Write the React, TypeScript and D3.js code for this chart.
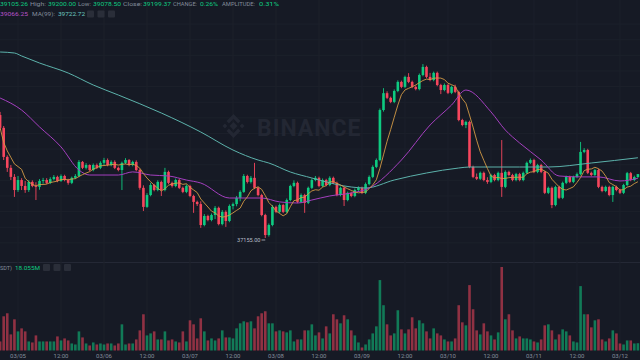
import React from 'react';
import * as d3 from 'd3';

// ---------- DATA ----------
const startTime = new Date(2022, 2, 4, 19, 0); // first visible hourly candle
// [open, high, low, close] per hour
const ohlc: number[][] = [
  [41090,41190,40610,40680],[40680,40740,39650,39750],[39750,39800,39270,39400],[39400,39490,39010,39110],
  [39110,39200,38470,38690],[38690,39140,38630,39010],[39010,39070,38690,38820],[38820,38980,38600,38690],
  [38690,39010,38630,38950],[38950,39000,38780,38820],[38820,38940,38370,38790],[38790,39040,38700,38980],
  [38980,39080,38890,39010],[39010,39070,38880,38920],[38920,39100,38880,39040],[39040,39170,39000,39110],
  [39110,39150,38940,38980],[38980,39190,38950,39140],[39140,39180,38970,39010],[39010,39050,38860,38920],
  [38920,39120,38880,39080],[39080,39200,39040,39140],[39140,39650,39100,39590],[39590,39620,39360,39400],
  [39400,39550,39350,39490],[39490,39510,39290,39330],[39330,39540,39290,39490],[39490,39540,39360,39400],
  [39400,39610,39360,39560],[39560,39720,39480,39650],[39650,39700,39450,39490],[39490,39640,39450,39590],
  [39590,39640,39360,39400],[39400,39440,39290,39330],[39330,39600,38690,39560],[39560,39710,39520,39650],
  [39650,39680,39450,39490],[39490,39630,39450,39590],[39590,39640,39290,39330],[39330,39370,38700,38760],
  [38760,38840,38020,38150],[38150,38590,38120,38530],[38530,38920,38490,38850],[38850,38890,38650,38690],
  [38690,39000,38650,38950],[38950,38990,38500,38690],[38690,39400,38650,39270],[39270,39310,38880,38920],
  [38920,38960,38770,38820],[38820,39060,38780,39010],[39010,39050,38720,38760],[38760,38800,38590,38630],
  [38630,38870,38590,38820],[38820,38860,38460,38500],[38500,38540,37960,38310],[38310,38350,38180,38240],
  [38240,38330,37480,37570],[37570,37920,37530,37860],[37860,37900,37690,37730],[37730,37940,37690,37890],
  [37890,38180,37760,38120],[38120,38160,37560,37600],[37600,38050,37560,37990],[37990,38040,37510,37700],
  [37700,38230,37660,38180],[38180,38290,38070,38240],[38240,38500,38170,38440],[38440,38680,38330,38630],
  [38630,39200,38600,39140],[39140,39180,38900,38950],[38950,39140,38900,39080],[39080,39560,38720,38760],
  [38760,38800,38490,38530],[38530,38570,37850,37890],[37890,37930,37155,37250],[37250,37620,37200,37570],
  [37570,38210,37530,38150],[38150,38190,37950,37990],[37990,38260,37950,38210],[38210,38250,37950,37990],
  [37990,38420,37950,38370],[38370,38860,38330,38820],[38820,39000,38780,38920],[38920,38960,38270,38310],
  [38310,38580,38270,38530],[38530,38570,37960,38280],[38280,38800,38240,38760],[38760,39060,38720,39010],
  [39010,39140,38970,39080],[39080,39120,38780,38820],[38820,39060,38780,39010],[39010,39050,38810,38850],
  [38850,39130,38810,39080],[39080,39120,38880,38920],[38920,38960,38490,38530],[38530,38800,38490,38760],
  [38760,38800,38180,38370],[38370,38640,38330,38600],[38600,38640,38460,38500],[38500,38740,38460,38690],
  [38690,38810,38650,38760],[38760,38800,38560,38600],[38600,38930,38560,38880],[38880,39160,38840,39110],
  [39110,39480,39070,39430],[39430,39700,39390,39650],[39650,41300,39610,41250],[41250,41950,41200,41790],
  [41790,41850,41600,41640],[41640,41680,41470,41510],[41510,41910,41470,41860],[41860,42200,41820,42150],
  [42150,42190,41950,41990],[41990,42350,41950,42310],[42310,42430,42110,42150],[42150,42190,41950,41990],
  [41990,42040,41880,41920],[41920,42420,41880,42370],[42370,42720,42330,42630],[42630,42670,42270,42310],
  [42310,42440,42170,42210],[42210,42480,42170,42440],[42440,42480,42010,42050],[42050,42090,41760,41890],
  [41890,42100,41850,42050],[42050,42090,41760,41800],[41800,42030,41760,41990],[41990,42060,41790,41830],
  [41830,41870,40890,40930],[40930,40970,40730,40770],[40770,40910,40670,40870],[40870,40910,39390,39430],
  [39430,39470,39070,39110],[39110,39220,39010,39050],[39050,39280,39010,39240],[39240,39280,38970,39010],
  [39010,39100,38890,38950],[38950,39210,38910,39170],[39170,39210,38970,39010],[39010,39280,38970,39240],
  [39240,40290,38470,38790],[38790,39320,38750,39270],[39270,39310,39130,39170],[39170,39210,38970,39010],
  [39010,39240,38970,39200],[39200,39240,38970,39010],[39010,39280,38970,39240],[39240,39600,39200,39560],
  [39560,39700,39520,39650],[39650,39690,39230,39270],[39270,39530,39230,39490],[39490,39530,39230,39270],
  [39270,39310,38560,38600],[38600,38800,38560,38760],[38760,38800,38110,38210],[38210,38830,38170,38790],
  [38790,38830,38400,38440],[38440,38960,38400,38920],[38920,39150,38880,39110],[39110,39150,38910,38950],
  [38950,39150,38910,39110],[39110,39250,39070,39200],[39200,40230,39160,39910],[39910,40030,39870,39970],
  [39970,40010,39200,39240],[39240,39280,39130,39170],[39170,39370,39130,39330],[39330,39370,38750,38790],
  [38790,38830,38620,38660],[38660,38830,38620,38790],[38790,38830,38490,38530],[38530,38830,38310,38790],
  [38790,38830,38650,38690],[38690,38730,38560,38600],[38600,38890,38560,38850],[38850,39270,38810,39230],
  [39230,39270,38970,39011],[39011,39150,38970,39105.26],[39105.26,39200,39078.5,39199.37],
];
// hourly volume, million USDT
const volumes: number[] = [
  22.5,85,92.5,40,77.5,47.5,55,47.5,22.5,20,37.5,22.5,22.5,22.5,22.5,22.5,35,25,30,25,
  17.5,15,47.5,32.5,17.5,12.5,20,15,17.5,15,17.5,17.5,12.5,17.5,65,15,17.5,17.5,27.5,50,
  90,37.5,42.5,47.5,27.5,27.5,47.5,25,27.5,22.5,20,47.5,22.5,75,65,30,80,47.5,25,30,
  25,30,50,32.5,32.5,30,55,67.5,72.5,70,72.5,55,85,92.5,97.5,67.5,67.5,47.5,50,47.5,
  45,50,22.5,27.5,27.5,50,50,65,37.5,45,30,60,42.5,90,77.5,67.5,87.5,77.5,50,37.5,
  20,7.5,15,27.5,42.5,60,175,112.5,65,37.5,42.5,100,52.5,42.5,52.5,82.5,55,75,67.5,47.5,
  30,55,42.5,37.5,27.5,22.5,22.5,30,112.5,70,62.5,162.5,102.5,50,40,67.5,47.5,37.5,27.5,45,
  207.5,77.5,90,50,30,35,30,30,27.5,22.5,20,27.5,62.5,65,50,27.5,40,52.5,47.5,37.5,
  22.5,20,160,90,90,57.5,75,77.5,27.5,22.5,30,50,42.5,17.5,15,25,25,17.5,18.055,
];
// MA(25) and MA(99): [candle index, price]
const ma25Pts: [number, number][] = [
  [0,41635],[6,41250],[11,40710],[17,40070],[22,39330],[25,39170],[33,39170],[37,39270],
  [42,39170],[47,39140],[52,39010],[56,38915],[64,38435],[73,38435],[78,38310],[83,38275],
  [87,38370],[92,38500],[98,38595],[103,38755],[112,39650],[120,40770],[126,41410],[130,41890],
  [137,41190],[141,40610],[145,40195],[151,39650],[156,39140],[162,39110],[167,39110],[173,38980],[178,39066.25],
];
const ma99Pts: [number, number][] = [
  [0,43107],[4,43075],[6,42980],[11,42755],[19,42435],[26,42051],[33,41730],[45,41155],
  [56,40547],[65,39970],[72,39650],[75,39555],[81,39267],[87,39075],[89,39011],[98,38787],
  [102,38755],[110,39011],[119,39235],[128,39395],[131,39427],[145,39427],[153,39427],[165,39555],[178,39722.72],
];
const headerLine1 = [
  { t: '39105.26', c: 'v', x: 0, w: 28 }, { t: 'High:', c: 'k', x: 30, w: 16 },
  { t: '39200.00', c: 'v', x: 48, w: 28 }, { t: 'Low:', c: 'k', x: 78, w: 13 },
  { t: '39078.50', c: 'v', x: 93, w: 28 }, { t: 'Close:', c: 'k', x: 123, w: 19 },
  { t: '39199.37', c: 'v', x: 143, w: 28 }, { t: 'CHANGE:', c: 'k', x: 173, w: 24 },
  { t: '0.26%', c: 'v', x: 200, w: 18 }, { t: 'AMPLITUDE:', c: 'k', x: 222, w: 33 },
  { t: '0.31%', c: 'v', x: 259, w: 20 },
];
const headerLine2 = [
  { t: '39066.25', c: 'p', x: 0, w: 28 }, { t: 'MA(99):', c: 'k', x: 32, w: 23 },
  { t: '39722.72', c: 't', x: 58, w: 27 },
];
const volLabel = [{ t: 'SDT)', c: 'k', x: 0, w: 12 }, { t: '18.055M', c: 'v', x: 15, w: 25 }];
const lowLabel = '37155.00';

// ---------- STYLE ----------
const BG = '#161a25';
const GRID = '#1c202b';
const UP = '#0ecb81';
const DOWN = '#f6465d';
const MA7C = '#d29a45';
const MA25C = '#a43fbf';
const MA99C = '#5cb2ab';
const GRAY = '#848e9c';
const FONT = 'Roboto, "Noto Sans", sans-serif';
const colorOf: Record<string, string> = { v: UP, k: GRAY, p: '#b653c9', t: '#6cc9c1' };

type Piece = { t: string; c: string; x: number; w: number };

export default function App() {
  const W = 640, H = 360;
  const times = ohlc.map((_, i) => d3.timeHour.offset(startTime, i));
  const x = d3.scaleTime().domain([times[0], times[times.length - 1]]).range([0.1, 637.9]);
  const y = d3.scaleLinear().domain([37155, 42595]).range([238, 68]);
  const yv = d3.scaleLinear().domain([0, 207.5]).range([350.5, 267]);
  const cw = 2.6;

  const closes = ohlc.map(d => d[3]);
  const ma7 = closes.map((_, i) => d3.mean(closes.slice(Math.max(0, i - 6), i + 1)) as number);
  const line7 = d3.line<number>().x((_, i) => x(times[i])).y(d => y(d));
  const lineS = d3.line<[number, number]>()
    .x(d => x(d3.timeHour.offset(startTime, d[0])))
    .y(d => y(d[1]))
    .curve(d3.curveMonotoneX);

  const ticks = x.ticks(d3.timeHour.every(12) as d3.TimeInterval);
  const fmt = (d: Date) => (d.getHours() === 0 ? d3.timeFormat('%m/%d')(d) : d3.timeFormat('%H:%M')(d));
  const priceGrid = d3.range(37000, 44001, 500);

  const lowIdx = ohlc.findIndex(d => d[2] === 37155);
  const lowX = x(times[lowIdx]);
  const lowY = y(37155) + 2;

  const squares = (x0: number, yy: number) =>
    [0, 1, 2].map(k => (
      <rect key={k} x={x0 + k * 10.5} y={yy} width={7} height={7} rx={1} fill="#2a2e39" />
    ));
  const texts = (arr: Piece[], yy: number) =>
    arr.map((h, k) => (
      <text key={k} x={h.x} y={yy} fill={colorOf[h.c]} textLength={h.w} lengthAdjust="spacingAndGlyphs">{h.t}</text>
    ));

  return (
    <svg width={W} height={H} style={{ position: 'absolute', left: 0, top: 0, background: BG }}
      fontFamily={FONT}>
      <rect width={W} height={H} fill={BG} />
      {/* grid */}
      {priceGrid.map(p => (
        <line key={p} x1={0} x2={W} y1={y(p)} y2={y(p)} stroke={GRID} strokeWidth={1} />
      ))}
      <line x1={0} x2={W} y1={262.5} y2={262.5} stroke="#242835" strokeWidth={1} />
      {ticks.map(t => (
        <line key={+t} x1={x(t)} x2={x(t)} y1={0} y2={351} stroke={GRID} strokeWidth={1} />
      ))}
      {/* watermark */}
      <g fill="#232733" transform="translate(233.5,126)">
        <path d="M0,-4 L4,0 L0,4 L-4,0Z" />
        <path d="M0,-12 L7,-5 L4.6,-2.6 L0,-7.2 L-4.6,-2.6 L-7,-5Z" />
        <path d="M0,12 L7,5 L4.6,2.6 L0,7.2 L-4.6,2.6 L-7,5Z" />
        <path d="M-11,0 L-8.6,-2.4 L-6.2,0 L-8.6,2.4Z" />
        <path d="M11,0 L8.6,-2.4 L6.2,0 L8.6,2.4Z" />
      </g>
      <text x={257} y={136} fontSize={23} fontWeight={700} fill="#232733" letterSpacing={1}>BINANCE</text>
      {/* volume */}
      {ohlc.map((d, i) => (
        <rect key={i} x={x(times[i]) - cw / 2} y={yv(volumes[i])} width={cw}
          height={yv(0) - yv(volumes[i])} fill={d[3] >= d[0] ? UP : DOWN} opacity={0.55} />
      ))}
      {/* candles */}
      {ohlc.map((d, i) => {
        const cx = x(times[i]);
        const up = d[3] >= d[0];
        const col = up ? UP : DOWN;
        const top = y(Math.max(d[0], d[3]));
        const bot = y(Math.min(d[0], d[3]));
        return (
          <g key={i}>
            <line x1={cx} x2={cx} y1={y(d[1])} y2={y(d[2])} stroke={col} strokeWidth={0.9} />
            <rect x={cx - cw / 2} y={top} width={cw} height={Math.max(0.8, bot - top)} fill={col} />
          </g>
        );
      })}
      {/* moving averages */}
      <path d={lineS(ma99Pts) || ''} fill="none" stroke={MA99C} strokeWidth={1} />
      <path d={lineS(ma25Pts) || ''} fill="none" stroke={MA25C} strokeWidth={1} />
      <path d={line7(ma7) || ''} fill="none" stroke={MA7C} strokeWidth={0.9} />
      {/* low marker */}
      <line x1={261.5} x2={lowX} y1={lowY} y2={lowY} stroke="#b7bdc6" strokeWidth={0.8} />
      <text x={237} y={lowY + 2.3} fontSize={6} fill="#b7bdc6" textLength={23.5}
        lengthAdjust="spacingAndGlyphs">{lowLabel}</text>
      {/* header */}
      <g fontSize={6}>
        {texts(headerLine1, 6.3)}
        {texts(headerLine2, 16.3)}
        {squares(87, 10.5)}
        {texts(volLabel, 269.8)}
        {squares(43, 264)}
      </g>
      {/* x axis labels */}
      {ticks.map(t => (
        <text key={+t} x={x(t)} y={358} fontSize={6} fill={GRAY} textAnchor="middle">{fmt(t)}</text>
      ))}
    </svg>
  );
}
